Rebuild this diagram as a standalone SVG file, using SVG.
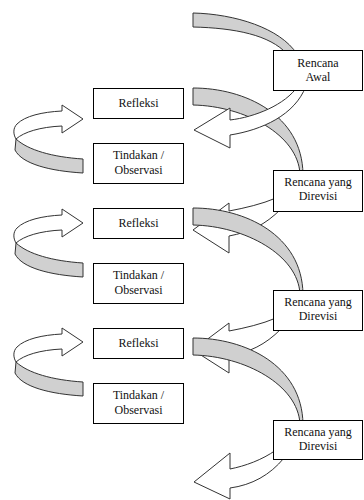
<svg xmlns="http://www.w3.org/2000/svg" width="364" height="500" viewBox="0 0 364 500">
<style>
.box{fill:#fff;stroke:#000;stroke-width:1}
.t{font-size:12px;fill:#111;text-anchor:middle}
.g{fill:#d0d0d0;stroke:#333;stroke-width:1;stroke-linejoin:round}
.w{fill:#fff;stroke:#333;stroke-width:1;stroke-linejoin:miter}
</style>
<defs>
<g id="loop">
<path class="g" d="M16,243 C28,254 52,261 83,263 L83,277 C50,275 22,268 15,254 Z"/>
<path class="w" d="M62,209 L83,223 L62,237 L62,230 C40,231 24,236 16,243 C13,238 13,232 17,228 C25,220 42,216 62,215 Z"/>
</g>
<path id="gray2" class="g" d="M193,88 C245,88 302,115 303,174 L300,174 C298,135 245,106 193,105 Z"/>
<path id="arr2" class="w" d="M193,230 L229,203 L229,211 C245,208 262,204 276,198 L281,209 C265,225 250,232 229,236 L229,253 Z"/>
</defs>
<g id="connectors">
<use href="#loop" transform="translate(0,-104)"/>
<use href="#loop"/>
<use href="#loop" transform="translate(0,119)"/>
<path class="g" d="M193,13 C235,14 280,28 297,54 L287,54 C270,35 235,28 193,27 Z"/>
<use href="#gray2"/>
<path class="w" d="M194,130 L230,108 L230,120 C255,117 285,105 298,86 L306,86 C295,115 262,130 230,135 L230,148 Z"/>
<use href="#arr2"/>
<use href="#gray2" transform="translate(0,120)"/>
<use href="#arr2" transform="translate(0,120)"/>
<use href="#gray2" transform="translate(0,250)"/>
<path class="w" d="M194,482 L230,453 L230,469 C245,466 262,460 276,450 L284,458 C270,475 252,485 230,488 L230,499 Z"/>
</g>
<g font-family="Times New Roman, Liberation Serif, serif">
<g id="rencana-awal"><rect class="box" x="273.5" y="50.5" width="89" height="40"/><text class="t" x="318" y="67">Rencana</text><text class="t" x="318" y="81">Awal</text></g>
<g id="refleksi-1"><rect class="box" x="93.5" y="88.5" width="90" height="30"/><text class="t" x="138.5" y="107">Refleksi</text></g>
<g id="tindakan-1"><rect class="box" x="93.5" y="143.5" width="90" height="40"/><text class="t" x="138.5" y="159">Tindakan /</text><text class="t" x="138.5" y="174">Observasi</text></g>
<g id="rencana-direvisi-1"><rect class="box" x="273.5" y="170.5" width="89" height="41"/><text class="t" x="318" y="186">Rencana yang</text><text class="t" x="318" y="200">Direvisi</text></g>
<g id="refleksi-2"><rect class="box" x="93.5" y="208.5" width="90" height="30"/><text class="t" x="138.5" y="227">Refleksi</text></g>
<g id="tindakan-2"><rect class="box" x="93.5" y="263.5" width="90" height="40"/><text class="t" x="138.5" y="279">Tindakan /</text><text class="t" x="138.5" y="294">Observasi</text></g>
<g id="rencana-direvisi-2"><rect class="box" x="273.5" y="290.5" width="89" height="40"/><text class="t" x="318" y="306">Rencana yang</text><text class="t" x="318" y="320">Direvisi</text></g>
<g id="refleksi-3"><rect class="box" x="93.5" y="328.5" width="90" height="30"/><text class="t" x="138.5" y="347">Refleksi</text></g>
<g id="tindakan-3"><rect class="box" x="93.5" y="383.5" width="90" height="40"/><text class="t" x="138.5" y="399">Tindakan /</text><text class="t" x="138.5" y="414">Observasi</text></g>
<g id="rencana-direvisi-3"><rect class="box" x="273.5" y="420.5" width="89" height="39"/><text class="t" x="318" y="436">Rencana yang</text><text class="t" x="318" y="450">Direvisi</text></g>
</g>
</svg>
